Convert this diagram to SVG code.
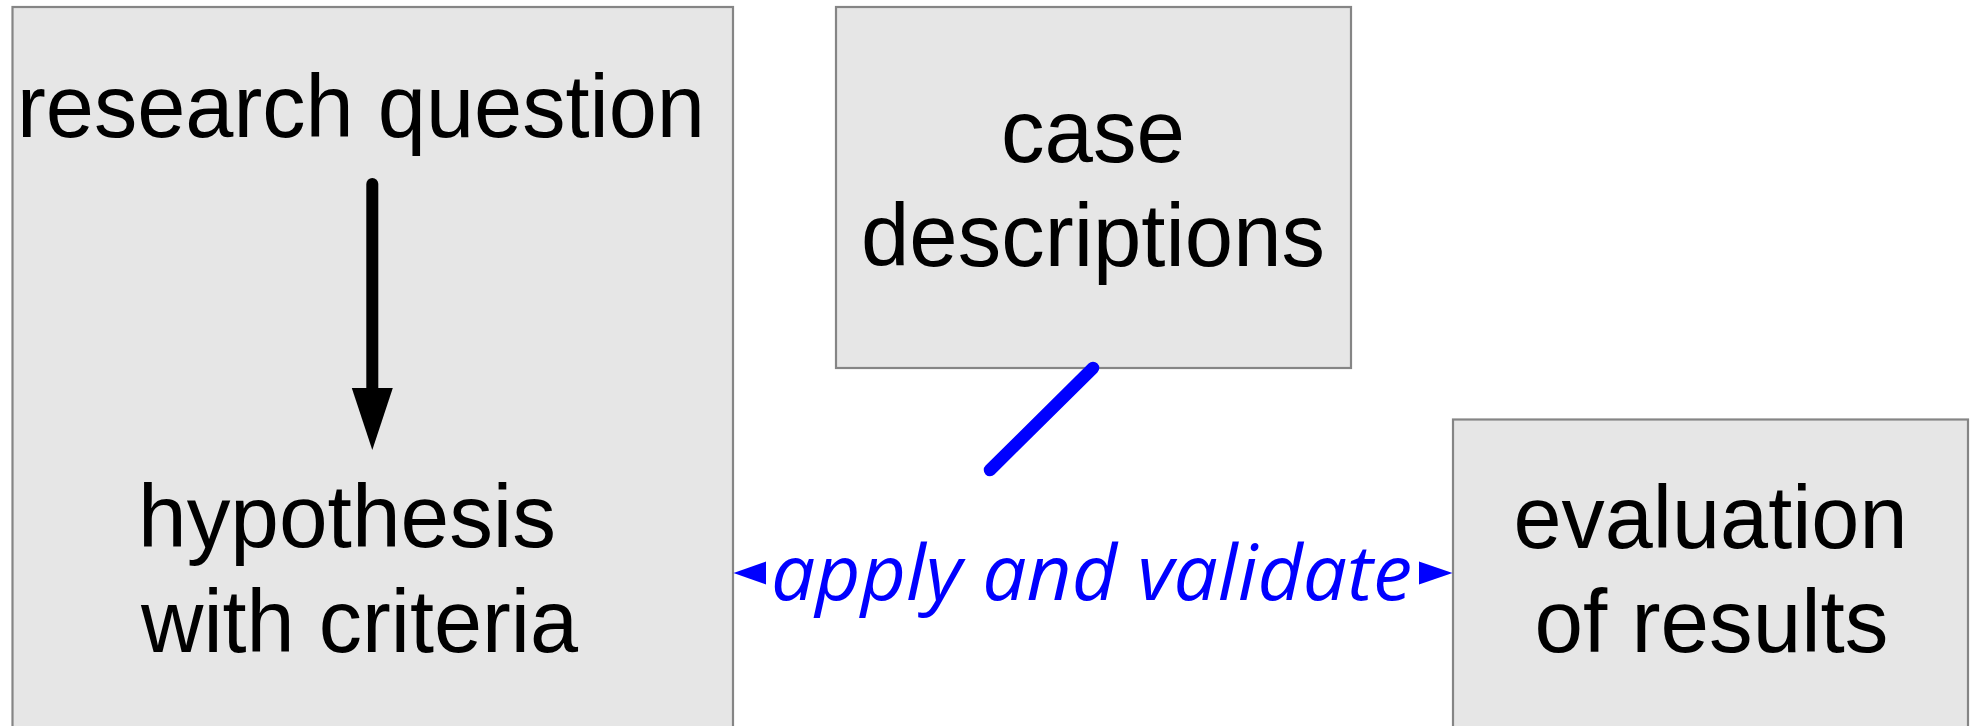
<svg xmlns="http://www.w3.org/2000/svg" width="1970" height="726" viewBox="0 0 1970 726">
<style>
.box{fill:#e6e6e6;stroke:#858585;stroke-width:2.2}
.t{font-family:"Liberation Sans",Arial,sans-serif;font-size:89px;fill:#000}
.lbl{font-family:"Open Sans",sans-serif;font-style:italic;font-size:76px;fill:#0000ff}
</style>
<defs>
<marker id="ah" viewBox="0 0 10 10" refX="10" refY="5" markerWidth="10" markerHeight="10" markerUnits="userSpaceOnUse" orient="auto"><path d="M0,0 L10,5 L0,10 Z" fill="#000"/></marker>
</defs>
<rect width="1970" height="726" fill="#fff"/>
<g id="node-left">
<rect class="box" x="12.5" y="7" width="720.5" height="740"/>
<text class="t" x="17" y="137" textLength="688" lengthAdjust="spacingAndGlyphs">research question</text>
<text class="t" x="138" y="547" textLength="418" lengthAdjust="spacingAndGlyphs">hypothesis</text>
<text class="t" x="141" y="652" textLength="437" lengthAdjust="spacingAndGlyphs">with criteria</text>
</g>
<g id="node-case">
<rect class="box" x="836" y="7" width="515" height="361"/>
<text class="t" x="1093" y="162" text-anchor="middle" textLength="184" lengthAdjust="spacingAndGlyphs">case</text>
<text class="t" x="1093" y="266" text-anchor="middle" textLength="464" lengthAdjust="spacingAndGlyphs">descriptions</text>
</g>
<g id="node-eval">
<rect class="box" x="1453" y="419.5" width="515" height="330"/>
<text class="t" x="1710.5" y="548" text-anchor="middle" textLength="394" lengthAdjust="spacingAndGlyphs">evaluation</text>
<text class="t" x="1711.5" y="652" text-anchor="middle" textLength="354" lengthAdjust="spacingAndGlyphs">of results</text>
</g>
<g id="connectors">
<line x1="372.3" y1="184" x2="372.3" y2="392" stroke="#000" stroke-width="12" stroke-linecap="round"/>
<polygon points="351.8,388 392.8,388 372.3,450" fill="#000"/>
<line x1="1093" y1="368" x2="990" y2="470" stroke="#0000ff" stroke-width="12.5" stroke-linecap="round"/>
<line x1="760" y1="573" x2="1425" y2="573" stroke="#0000ff" stroke-width="2"/>
<polygon points="733.5,573 766,561.5 766,584.5" fill="#0000ff"/>
<polygon points="1452.5,573 1419,561.5 1419,584.5" fill="#0000ff"/>
<rect x="766" y="535" width="653" height="85" fill="#fff"/>
<text class="lbl" x="1091.5" y="600" text-anchor="middle" textLength="641" lengthAdjust="spacingAndGlyphs">apply and validate</text>
</g>
</svg>
